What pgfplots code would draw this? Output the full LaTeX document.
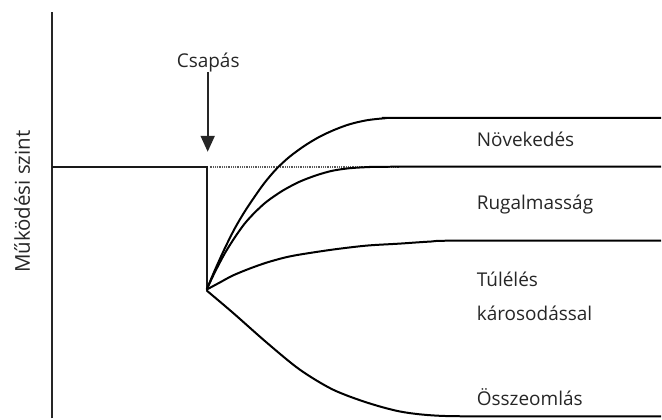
\documentclass[border=0pt]{standalone}
\usepackage{fontspec}
\setmainfont{Open Sans}
\usepackage{pgfplots}
\pgfplotsset{compat=1.18}
\usetikzlibrary{arrows.meta}
\definecolor{txt}{HTML}{262626}
\begin{document}
\begin{tikzpicture}
\begin{axis}[
  scale only axis, width=610pt, height=407pt,
  xmin=52, xmax=662, ymin=0, ymax=407,
  axis x line=none, axis y line=left,
  y axis line style={-, line width=2pt, color=black!85},
  xtick=\empty, ytick=\empty,
  clip=false,
]
% invisible frame to fix bounding box
\path (axis cs:0,0) rectangle (axis cs:662,419);
% dotted previous level
\addplot[black!65, line width=1.6pt, dash pattern=on 0.9pt off 0.9pt] coordinates {(210,252) (400,252)};
% baseline and drop
\addplot[black!90, line width=2pt] coordinates {(52,251.5) (207,251.5) (207,128)};
% arrow
\addplot[black!85, line width=2pt, -{Triangle[width=14pt,length=16pt]}] coordinates {(208,347) (208,267)};
% Novekedes (x, 419-py)
\addplot[black, line width=2pt, smooth] coordinates {
(207,129) (215,148) (225,170) (235,190) (245,207) (255,222) (265,236) (277,250)
(290,262) (305,273) (320,282) (335,289) (350,294.5) (367,298.5) (385,300.5) (405,301) (662,301)};
% Rugalmassag
\addplot[black, line width=2pt, smooth] coordinates {
(207,129) (215,146) (225,165) (235,181) (245,195) (255,206) (267,217) (283,228)
(300,237) (317,243.5) (333,248) (350,250.5) (370,251.7) (395,252) (662,252)};
% Tuleles karosodassal
\addplot[black, line width=2pt, smooth] coordinates {
(207,129) (220,136) (233,143) (250,150) (267,156) (285,161) (300,164) (333,169)
(367,173) (400,175) (430,177) (460,178) (662,178)};
% Osszeomlas
\addplot[black, line width=2pt, smooth] coordinates {
(207,128) (233,106) (267,76) (300,49) (333,29) (367,16) (400,7) (433,3) (480,2) (662,2)};
% labels
\node[txt, font=\fontsize{19}{23}\selectfont, anchor=base] at (axis cs:208.5,351) {Csapás};
\node[txt, font=\fontsize{19}{23}\selectfont, anchor=base west] at (axis cs:474,272) {Növekedés};
\node[txt, font=\fontsize{19}{23}\selectfont, anchor=base west] at (axis cs:474,209) {Rugalmasság};
\node[txt, font=\fontsize{19}{23}\selectfont, anchor=base west] at (axis cs:474,132) {Túlélés};
\node[txt, font=\fontsize{19}{23}\selectfont, anchor=base west] at (axis cs:474,98) {károsodással};
\node[txt, font=\fontsize{19}{23}\selectfont, anchor=base west] at (axis cs:474,13) {Összeomlás};
\node[txt, font=\fontsize{20.5}{24}\selectfont, rotate=90, anchor=base] at (axis cs:30,217) {Működési szint};
\end{axis}
\end{tikzpicture}
\end{document}
